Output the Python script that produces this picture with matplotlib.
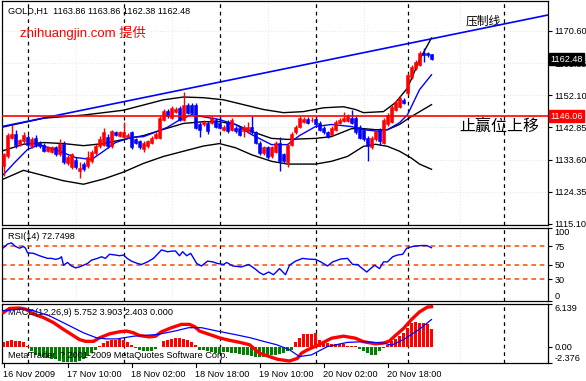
import matplotlib
matplotlib.use("Agg")
import matplotlib.pyplot as plt
import numpy as np

plt.rcParams["font.family"] = ["Liberation Sans", "Noto Sans CJK SC", "DejaVu Sans"]

# ---- price candles (H1 bars, index 0..107) ----
opens = [1131.7, 1134.5, 1139.9, 1141.1, 1138.2, 1138.8, 1140.2, 1137.4, 1139.9, 1138.5,
         1137.9, 1136.2, 1135.9, 1137.1, 1135.1, 1138.2, 1132.5, 1131.4, 1133.6, 1130.4,
         1132.2, 1131.7, 1133.1, 1135.4, 1137.4, 1137.9, 1140.2, 1137.4, 1141.4, 1140.5,
         1140.2, 1140.2, 1141.4, 1139.4, 1138.8, 1136.5, 1137.4, 1138.5, 1139.9, 1139.9,
         1145.1, 1147.7, 1145.7, 1147.4, 1148.5, 1145.1, 1149.4, 1149.4, 1149.4, 1143.9,
         1143.7, 1144.2, 1144.2, 1145.1, 1144.2, 1142.2, 1144.5, 1142.2, 1142.8, 1142.8,
         1141.7, 1141.7, 1143.1, 1141.4, 1138.5, 1135.4, 1137.1, 1134.5, 1135.9, 1138.5,
         1135.1, 1132.8, 1137.9, 1141.4, 1143.1, 1144.5, 1145.4, 1144.9, 1145.4, 1144.2,
         1142.8, 1141.4, 1140.8, 1142.2, 1144.2, 1144.8, 1144.8, 1145.7, 1145.7, 1143.1,
         1142.2, 1139.9, 1137.1, 1139.4, 1142.2, 1138.5, 1143.7, 1144.5, 1148.0, 1148.8,
         1150.8, 1152.8, 1157.4, 1160.0, 1160.9, 1164.3, 1164.3, 1163.86]
highs = [1135.6, 1141.3, 1143.7, 1142.0, 1139.6, 1141.5, 1140.8, 1140.0, 1140.8, 1139.0,
         1138.5, 1137.6, 1137.6, 1137.6, 1139.4, 1138.8, 1134.8, 1135.6, 1134.2, 1132.8,
         1132.8, 1136.2, 1136.4, 1138.1, 1140.5, 1142.8, 1141.0, 1142.2, 1141.9, 1141.9,
         1144.5, 1141.3, 1141.9, 1139.9, 1139.3, 1139.0, 1139.3, 1140.4, 1141.6, 1146.2,
         1148.2, 1148.2, 1149.0, 1148.7, 1149.0, 1153.1, 1149.9, 1149.9, 1149.9, 1144.4,
         1145.0, 1144.7, 1146.2, 1145.6, 1146.5, 1143.6, 1145.0, 1145.6, 1143.3, 1143.3,
         1143.6, 1144.5, 1146.2, 1141.9, 1139.0, 1137.6, 1137.6, 1137.6, 1139.0, 1140.2,
         1135.6, 1138.4, 1141.6, 1143.6, 1146.2, 1145.9, 1145.9, 1145.8, 1145.9, 1144.7,
         1143.3, 1141.9, 1143.3, 1145.0, 1145.6, 1147.4, 1146.7, 1148.0, 1146.2, 1143.6,
         1142.7, 1140.4, 1140.4, 1142.2, 1142.7, 1145.6, 1147.0, 1149.3, 1150.8, 1151.9,
         1151.3, 1158.5, 1160.8, 1162.2, 1164.8, 1165.7, 1164.6, 1163.86]
lows = [1128.8, 1134.0, 1139.4, 1136.8, 1137.6, 1138.2, 1137.2, 1136.8, 1137.1, 1137.0,
        1135.9, 1135.8, 1135.5, 1134.6, 1134.6, 1132.2, 1132.0, 1130.8, 1130.8, 1128.2,
        1130.2, 1131.2, 1132.6, 1134.9, 1136.9, 1137.4, 1136.8, 1136.9, 1140.3, 1140.0,
        1139.7, 1139.7, 1136.5, 1138.0, 1136.5, 1135.9, 1136.9, 1138.0, 1139.4, 1139.4,
        1144.6, 1145.5, 1145.2, 1146.9, 1144.6, 1144.6, 1146.6, 1146.6, 1142.3, 1140.2,
        1143.2, 1141.0, 1143.7, 1142.6, 1142.3, 1141.7, 1141.2, 1141.7, 1141.2, 1140.3,
        1140.2, 1141.2, 1140.9, 1138.0, 1134.9, 1134.9, 1133.7, 1134.0, 1135.4, 1130.2,
        1132.6, 1131.6, 1137.4, 1140.9, 1142.6, 1144.0, 1143.7, 1144.4, 1143.2, 1141.7,
        1140.9, 1139.7, 1140.3, 1141.7, 1143.7, 1144.3, 1144.3, 1143.7, 1140.9, 1139.4,
        1138.9, 1133.1, 1136.6, 1138.9, 1137.9, 1138.0, 1143.2, 1144.0, 1147.5, 1148.3,
        1149.5, 1152.3, 1156.9, 1159.5, 1160.4, 1161.7, 1163.0, 1162.38]
closes = [1135.1, 1140.8, 1141.1, 1137.9, 1139.1, 1140.8, 1137.9, 1139.4, 1137.9, 1137.6,
          1136.2, 1137.1, 1137.1, 1135.1, 1138.2, 1132.8, 1134.2, 1135.1, 1131.4, 1131.3,
          1130.8, 1134.2, 1135.9, 1137.6, 1139.4, 1141.4, 1137.4, 1141.7, 1140.8, 1141.4,
          1141.4, 1140.8, 1137.1, 1138.5, 1137.1, 1138.5, 1138.8, 1139.9, 1141.1, 1145.7,
          1147.7, 1146.0, 1148.5, 1148.2, 1145.1, 1149.4, 1147.1, 1147.1, 1142.8, 1142.2,
          1144.5, 1141.7, 1145.7, 1143.1, 1142.8, 1143.1, 1141.7, 1145.1, 1141.7, 1140.8,
          1143.1, 1143.1, 1141.4, 1138.5, 1135.4, 1137.1, 1134.2, 1137.1, 1138.5, 1133.1,
          1133.1, 1137.9, 1141.1, 1143.1, 1145.7, 1145.4, 1144.2, 1145.1, 1143.7, 1142.2,
          1141.4, 1140.2, 1142.8, 1144.5, 1145.1, 1145.7, 1146.2, 1144.2, 1141.4, 1139.9,
          1139.4, 1137.4, 1139.9, 1141.7, 1138.8, 1145.1, 1146.5, 1148.8, 1150.3, 1151.4,
          1150.0, 1158.0, 1160.3, 1161.7, 1164.3, 1163.7, 1163.7, 1162.48]

# ---- overlays (bar index, price) ----
bb_up_x = [0, 10, 20, 30, 40, 45, 50, 55, 60, 65, 70, 75, 80, 85, 88, 90, 95, 98, 101, 104, 107]
bb_up_y = [1143.0, 1145.5, 1146.4, 1147.8, 1150.8, 1151.6, 1151.4, 1150.8, 1149.4, 1148.0,
           1147.1, 1147.4, 1148.5, 1148.8, 1148.0, 1147.1, 1147.4, 1150.0, 1154.2, 1162.3, 1168.6]
bb_mid_x = [0, 5, 10, 15, 20, 25, 30, 35, 40, 45, 50, 54, 58, 62, 67, 71, 78, 82, 87, 90, 93, 96, 99, 102, 107]
bb_mid_y = [1136.2, 1138.0, 1138.5, 1138.2, 1137.6, 1138.2, 1139.4, 1140.5, 1142.3, 1144.0,
            1144.5, 1144.5, 1143.7, 1141.7, 1139.7, 1139.4, 1139.7, 1140.2, 1142.5, 1142.5,
            1142.2, 1142.2, 1143.7, 1146.0, 1149.4]
bb_lo_x = [0, 5, 10, 15, 20, 25, 30, 35, 40, 45, 50, 54, 58, 62, 67, 71, 78, 82, 86, 90, 93, 96, 99, 102, 104, 107]
bb_lo_y = [1128.0, 1130.5, 1129.0, 1127.5, 1126.5, 1128.0, 1130.0, 1132.5, 1134.5, 1136.0,
           1137.5, 1138.2, 1137.0, 1135.0, 1133.1, 1132.3, 1132.3, 1133.1, 1134.5, 1137.4,
           1138.0, 1137.4, 1136.0, 1134.0, 1132.3, 1130.8]
ma_x = [0, 3, 6, 9, 14, 18, 22, 25, 28, 32, 35, 38, 41, 44, 47, 51, 54, 58, 62, 67, 71, 74, 78, 82, 87, 90, 94, 96, 99, 101, 104, 107]
ma_y = [1129.3, 1133.0, 1136.5, 1137.9, 1136.0, 1134.2, 1133.6, 1136.0, 1138.5, 1140.0,
        1140.2, 1141.5, 1142.9, 1145.0, 1146.5, 1145.7, 1145.1, 1143.7, 1140.8, 1137.9,
        1137.9, 1140.5, 1143.1, 1143.7, 1143.1, 1142.2, 1141.7, 1142.2, 1144.2, 1146.5,
        1153.7, 1158.0]

trend_x = [-0.375, 136.1]
trend_y = [1143.1, 1175.2]
stop_level = 1146.06
price_ticks = [1170.60, 1161.35, 1152.10, 1142.85, 1133.60, 1124.35, 1115.10]

# ---- RSI(14) ----
rsi_x = [0, 1, 2, 3, 4, 5, 5.5, 6, 7.5, 9, 11, 12, 13, 14, 14.5, 15, 16, 17, 18, 19, 21, 22, 23.5,
         24.5, 25.5, 26.5, 28, 29, 30, 31, 32, 33.5, 34.5, 36, 37.5, 39.5, 41, 42.5, 43, 44,
         44.8, 45.8, 46.8, 48.3, 49.5, 51, 52.3, 53.5, 55, 55.8, 57.3, 59.5, 61.3, 62.8, 64,
         65, 66.3, 67.5, 69, 70.5, 71.5, 73, 74.8, 76, 78, 79.3, 81, 82.3, 84.3, 86, 87.3,
         88.5, 89.5, 90.8, 92, 92.8, 94, 95, 96, 97.3, 98.5, 99.8, 100.8, 102.3, 104.5, 105.8, 107]
rsi_y = [73, 78, 79.6, 74.7, 72.3, 74.7, 72.3, 66, 65.3, 62, 58.4, 58.4, 57, 58.4, 60.6, 49, 52.8,
         48, 45.4, 46.7, 51.4, 56, 58.4, 60.6, 58.4, 64, 63, 62, 63, 58, 54.6, 51.4, 50, 53.6,
         58.4, 70, 67.5, 68.5, 68.5, 62, 67.5, 62, 65.3, 51.4, 48, 54.6, 53.6, 51.4, 50, 52.8,
         48, 46.7, 50, 44.4, 38.9, 36, 39.7, 36, 44.4, 36, 49, 54.6, 58.4, 57.5, 57, 53.6, 48,
         53.6, 57.5, 58.4, 50, 50, 45.4, 39.7, 45.4, 49, 44.4, 53.6, 53.6, 60.6, 63, 64, 72.3,
         74.7, 76, 76, 73]
rsi_levels = [75, 50, 30]

# ---- MACD(12,26,9) ----
hist = [0.6, 0.75, 0.9, 0.85, 0.75, 0.6, 0.1, -0.7, -1.2, -1.35,
        -1.55, -1.7, -1.75, -1.85, -2.05, -2.2, -2.25, -2.25, -2.2, -2.05,
        -1.75, -1.35, -0.95, -0.45, 0.1, 0.5, 0.75, 0.9, 1.0, 1.1,
        0.9, 0.6, 0.26, -0.22, -0.47, -0.6, -0.7, -0.6, -0.37, -0.13,
        0.75, 1.0, 1.15, 1.25, 1.25, 1.1, 0.9, 0.6, 0.26, -0.47,
        -0.55, -0.7, -0.85, -0.96, -0.96, -0.85, -0.85, -0.96, -0.96, -1.06,
        -1.2, -1.2, -1.35, -1.45, -1.45, -1.45, -1.35, -1.2, -1.2, -1.06,
        -0.96, -0.7, -0.47, 0.6, 1.2, 1.74, 1.83, 1.83, 1.98, 1.0,
        0.75, 0.5, 0.4, 0.4, 0.4, 0.4, 0.12, 0.1, 0.05, -0.37,
        -0.7, -0.96, -1.2, -1.2, -0.7, -0.2, 0.26, 0.75, 1.1, 1.5,
        1.98, 2.7, 3.35, 3.55, 3.45, 3.45, 3.2, 2.47]
macd_x = [0, 1.5, 4, 5.5, 7.5, 10, 12.5, 15, 17, 19, 20.5, 22.5, 24, 26.5, 29, 30.8, 32.5, 34,
          36.5, 38, 39.5, 42, 44.5, 46.5, 47.8, 49, 51.5, 54, 56.5, 59, 61.5, 64, 66.5, 68.5,
          71.5, 73.5, 74.5, 76, 79, 82, 85, 88, 90, 93, 95, 96.5, 98, 100, 102, 104, 106, 107]
macd_y = [4.92, 5.5, 5.56, 5.41, 4.68, 4.18, 3.45, 2.47, 1.74, 1.0, 0.75, 0.75, 1.25, 1.83,
          2.13, 2.23, 1.98, 1.59, 1.39, 1.49, 2.13, 2.72, 3.2, 3.2, 2.86, 2.23, 1.74, 1.25,
          0.9, 0.61, 0.26, -0.96, -1.45, -1.84, -2.09, -1.7, -0.96, -0.47, 0.3, 1.2, 1.5,
          1.2, 0.7, 0.4, 0.5, 0.8, 1.6, 2.6, 3.9, 5.0, 5.7, 5.75]
sig_x = [0, 4.5, 7.5, 11.5, 15.8, 20, 23.3, 25.8, 28.3, 32.5, 38.5, 42.8, 46.3, 49.5, 53.5, 57.8,
         61.8, 65, 68.3, 71.5, 74, 77, 81, 86, 90, 95, 97, 100, 104, 107]
sig_y = [5.17, 5.41, 5.17, 4.43, 3.2, 1.98, 1.25, 1.1, 1.1, 1.49, 1.74, 2.23, 2.72, 2.72, 2.23,
         1.74, 1.25, 0.75, 0.26, -0.47, -1.45, -1.2, 0.0, 0.6, 0.7, 0.5, 0.2, 1.0, 2.5, 3.9]

time_ticks = [0, 16, 32, 48, 64, 80, 96]
time_labels = ["16 Nov 2009", "17 Nov 10:00", "18 Nov 02:00", "18 Nov 18:00",
               "19 Nov 10:00", "20 Nov 02:00", "20 Nov 18:00"]
separators = [6, 30, 54, 78, 101, 125]

W, H = 586, 381
fig = plt.figure(figsize=(W / 100, H / 100), dpi=100)


def box(top, bottom):
    return [2 / W, 1 - bottom / H, 546 / W, (bottom - top) / H]


ax = fig.add_axes(box(1, 225))
ax_rsi = fig.add_axes(box(228, 301))
ax_macd = fig.add_axes(box(304, 363))
XLIM = (-0.375, 136.125)
FS = 6.6

for a in (ax, ax_rsi, ax_macd):
    a.set_xlim(*XLIM)
    a.set_xticks([])
    a.yaxis.tick_right()
    a.tick_params(axis="y", length=3, width=0.8, pad=1.5, labelsize=FS, direction="out")
    for s in a.spines.values():
        s.set_linewidth(0.9)
    # faint grid
    for v in separators:
        a.axvline(v, color="black", ls=(0, (3, 3)), lw=0.9, zorder=1)
    for v in [18, 42, 66, 90, 114]:
        a.axvline(v, color="#dde8dd", ls=(0, (1, 2)), lw=0.7, zorder=0)

# main panel
ax.set_ylim(1114.77, 1179.23)
ax.set_yticks(price_ticks)
ax.set_yticklabels([f"{p:.2f}" for p in price_ticks])
for p in price_ticks:
    ax.axhline(p, color="#dde8dd", ls=(0, (1, 2)), lw=0.7, zorder=0)

ax.plot(bb_up_x, bb_up_y, color="black", lw=1, zorder=2)
ax.plot(bb_mid_x, bb_mid_y, color="black", lw=1, zorder=2)
ax.plot(bb_lo_x, bb_lo_y, color="black", lw=1, zorder=2)
ax.plot(ma_x, ma_y, color="#0000ff", lw=1, zorder=2)

for i, (o, h, l, c) in enumerate(zip(opens, highs, lows, closes)):
    col = "#ff0000" if c >= o else "#0000ff"
    ax.vlines(i, l, h, color=col, lw=1, zorder=3)
    ax.bar(i, max(abs(c - o), 0.15), bottom=min(o, c), width=0.7, color=col,
           edgecolor=col, lw=0.4, zorder=4)

ax.plot(trend_x, trend_y, color="#0000ff", lw=1.2, zorder=5, clip_on=True)
ax.axhline(stop_level, color="#ff0000", lw=1.2, zorder=5)

ax.text(1.0, 1176.4, "GOLD,H1  1163.86 1163.86 1162.38 1162.48", fontsize=FS, va="center")
ax.text(4.0, 1170.0, "zhihuangjin.com 提供", fontsize=9.5, color="#ff0000", va="center",
        family=["Liberation Sans", "Noto Sans CJK SC"])
ax.text(115.5, 1173.5, "压制线", fontsize=8.5, va="center", family=["Noto Sans CJK SC"])
ax.text(114.0, 1143.0, "止赢位上移", fontsize=11.5, va="center", family=["Noto Sans CJK SC"])

# price tags on the right axis (the black tag covers the 1161.35 label, as in MT4)
ax.text(136.6, 1162.48, "1162.48", fontsize=FS, color="white", va="center", ha="left",
        bbox=dict(boxstyle="square,pad=0.15", fc="black", ec="black"), clip_on=False,
        zorder=10)
ax.text(136.6, stop_level, "1146.06", fontsize=FS, color="white", va="center", ha="left",
        bbox=dict(boxstyle="square,pad=0.15", fc="#ff0000", ec="#ff0000"), clip_on=False,
        zorder=10)

# RSI panel
ax_rsi.set_ylim(0, 100)
ax_rsi.set_yticks([100, 75, 50, 30, 0])
ax_rsi.set_yticklabels(["100", "75", "50", "30", "0"])
rlabs = ax_rsi.get_yticklabels()
rlabs[0].set_va("top")
rlabs[4].set_va("bottom")
for lv in rsi_levels:
    ax_rsi.axhline(lv, color="#ff4500", ls=(0, (3, 2.5)), lw=1.1, zorder=2)
ax_rsi.plot(rsi_x, rsi_y, color="#0000ff", lw=1, zorder=3)
ax_rsi.text(1.0, 89, "RSI(14) 72.7498", fontsize=FS, va="center")

# MACD panel
ax_macd.set_ylim(-2.376, 6.139)
ax_macd.set_yticks([6.139, 0.0, -2.376])
ax_macd.set_yticklabels(["6.139", "0.00", "-2.376"])
mlabs = ax_macd.get_yticklabels()
mlabs[0].set_va("top")
mlabs[2].set_va("bottom")
cols = ["#ff0000" if v >= 0 else "#008000" for v in hist]
ax_macd.bar(range(len(hist)), hist, width=0.75, color=cols, zorder=2)
ax_macd.plot(macd_x, macd_y, color="#ff0000", lw=2.4, zorder=3)
ax_macd.plot(sig_x, sig_y, color="#0000ff", lw=0.9, zorder=4)
ax_macd.text(1.0, 4.9, "MACD(12,26,9) 5.752 3.903 2.403 0.000", fontsize=FS, va="center")
ax_macd.text(1.0, -1.3, "MetaTrader, ? 2001-2009 MetaQuotes Software Corp.", fontsize=FS,
             va="center")

for t, lab in zip(time_ticks, time_labels):
    ax_macd.text(t - 0.2, -4.0, lab, fontsize=FS, va="center", ha="left", clip_on=False)
    ax_macd.plot([t, t], [-2.376, -2.9], color="black", lw=0.8, clip_on=False)

fig.savefig("out.png", dpi=100)
